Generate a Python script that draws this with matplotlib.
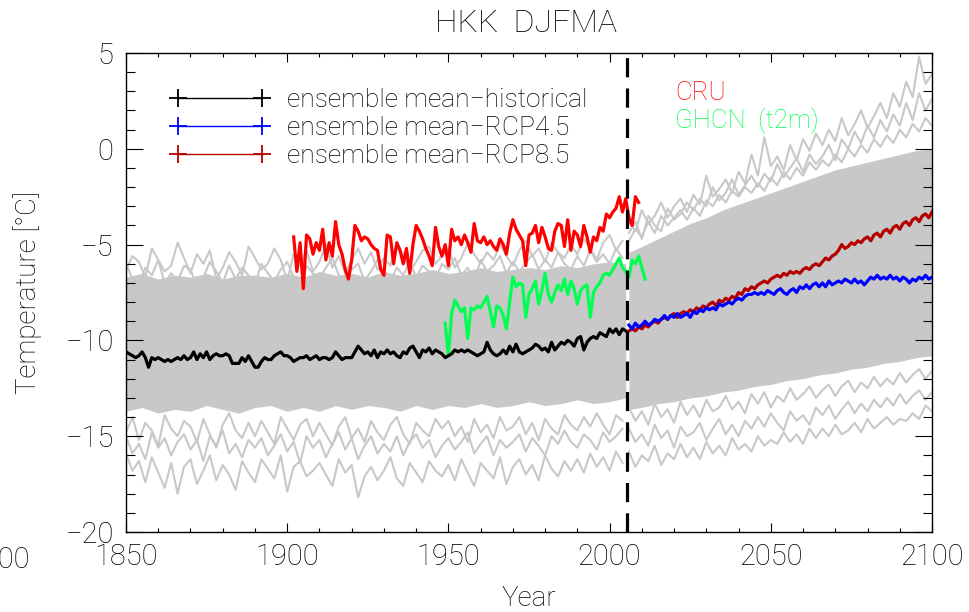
import numpy as np
import matplotlib
matplotlib.use('Agg')
import matplotlib.pyplot as plt
from matplotlib.lines import Line2D
from matplotlib.ticker import MultipleLocator

# ensemble mean, historical run, 1850-2005
hist_mean = [
    -10.6, -10.7, -10.8, -10.9, -10.8, -10.6, -10.9, -11.4, -10.9, -11.0,
    -10.9, -11.0, -11.1, -11.0, -11.1, -11.0, -10.9, -11.0, -10.8, -11.0,
    -10.9, -10.6, -11.0, -10.7, -10.9, -10.6, -11.0, -10.8, -10.7, -10.8,
    -10.8, -10.7, -10.8, -11.2, -11.2, -11.2, -10.9, -11.1, -10.8, -11.1,
    -11.4, -11.4, -11.1, -10.9, -11.0, -11.0, -10.8, -10.7, -10.6, -10.8,
    -10.8, -10.9, -11.1, -11.0, -10.9, -10.9, -10.8, -11.0, -10.9, -10.8,
    -11.0, -10.9, -10.9, -11.0, -10.9, -10.6, -10.8, -11.0, -10.9, -10.9,
    -10.9, -10.6, -10.3, -10.5, -10.7, -10.6, -10.8, -10.5, -10.9, -10.6,
    -10.7, -10.5, -10.7, -10.6, -10.8, -10.9, -10.6, -10.7, -10.4, -10.3,
    -10.6, -10.9, -10.5, -10.6, -10.4, -10.7, -10.5, -10.6, -10.7, -10.9,
    -10.8, -10.7, -10.5, -10.6, -10.5, -10.6, -10.5, -10.6, -10.7, -10.8,
    -10.7, -10.6, -10.1, -10.5, -10.7, -10.8, -10.7, -10.5, -10.7, -10.3,
    -10.6, -10.2, -10.6, -10.7, -10.6, -10.5, -10.4, -10.2, -10.3, -10.5,
    -10.4, -10.6, -10.1, -10.5, -10.3, -10.1, -10.2, -10.0, -10.1, -10.3,
    -9.9, -9.8, -10.5, -10.1, -9.9, -9.8, -9.9, -9.6, -9.7, -9.8,
    -9.4, -9.6, -9.4, -9.7, -9.4, -9.5]

# ensemble means, scenarios, 2006-2100
rcp45_mean = [
    -9.2, -9.4, -9.1, -9.3, -9.2, -9.0, -9.2, -9.1, -8.9, -9.0,
    -8.9, -8.7, -8.9, -8.7, -8.8, -8.6, -8.8, -8.7, -8.6, -8.8,
    -8.5, -8.6, -8.4, -8.5, -8.3, -8.4, -8.3, -8.4, -8.1, -8.2,
    -8.1, -8.0, -8.1, -7.9, -7.8, -7.9, -7.7, -7.6, -7.6, -7.5,
    -7.6, -7.5, -7.6, -7.4, -7.5, -7.6, -7.4, -7.3, -7.5, -7.6,
    -7.4, -7.3, -7.5, -7.2, -7.3, -7.1, -7.3, -7.1, -7.0, -7.2,
    -7.0, -7.2, -6.9, -7.1, -7.0, -6.9, -7.0, -6.8, -6.9, -7.0,
    -6.8, -7.0, -6.9, -7.1, -6.9, -6.7, -6.8, -6.6, -6.8, -6.7,
    -6.8, -6.6, -6.8, -6.7, -6.9, -6.7, -6.8, -7.0, -6.8, -6.9,
    -6.7, -6.8, -6.6, -6.8, -6.7]
rcp85_mean = [
    -9.5, -9.4, -9.5, -9.3, -9.4, -9.2, -9.3, -9.1, -9.0, -9.1,
    -8.9, -8.8, -8.9, -8.7, -8.6, -8.8, -8.6, -8.5, -8.6, -8.4,
    -8.5, -8.3, -8.4, -8.2, -8.3, -8.1, -8.0, -8.2, -7.9, -8.0,
    -7.8, -7.9, -7.7, -7.8, -7.5, -7.6, -7.3, -7.4, -7.2, -7.3,
    -7.1, -7.0, -6.9, -7.0, -6.8, -6.7, -6.6, -6.7, -6.5, -6.6,
    -6.4, -6.5, -6.4, -6.5, -6.3, -6.2, -6.3, -6.1, -6.0, -6.1,
    -5.9, -5.7, -5.8, -5.6, -5.5, -5.3, -5.0, -5.2, -5.1, -4.9,
    -5.0, -4.8, -4.9, -4.7, -4.6, -4.8, -4.5, -4.4, -4.6, -4.3,
    -4.2, -4.4, -4.1, -4.0, -4.2, -3.9, -3.8, -4.0, -3.7, -3.6,
    -3.8, -3.5, -3.4, -3.6, -3.3]

# observations
cru = [
    -4.6, -6.4, -4.9, -7.3, -4.5, -4.7, -5.5, -4.9, -5.3, -4.2,
    -5.8, -4.9, -5.6, -3.8, -5.0, -5.5, -6.3, -6.8, -5.8, -4.0,
    -4.3, -4.8, -4.6, -4.7, -5.0, -5.2, -5.3, -6.3, -6.6, -4.5,
    -4.6, -6.0, -4.9, -5.3, -6.0, -5.2, -6.5, -5.0, -4.0, -4.3,
    -4.7, -5.2, -5.6, -6.1, -4.1, -5.1, -5.6, -5.0, -6.1, -4.2,
    -4.8, -4.6, -5.0, -4.5, -4.9, -5.4, -3.9, -4.8, -4.9, -4.6,
    -5.0, -4.8, -5.1, -5.3, -4.7, -5.0, -5.5, -4.4, -3.7, -4.2,
    -4.5, -4.8, -6.1, -4.5, -4.4, -4.0, -4.9, -4.1, -4.6, -5.2,
    -5.3, -4.3, -3.9, -4.0, -5.1, -3.7, -5.3, -4.3, -4.5, -5.1,
    -4.0, -4.6, -5.4, -4.6, -4.8, -4.1, -4.3, -3.4, -3.6, -3.3,
    -3.1, -2.5, -3.3, -2.6, -3.6, -4.0, -2.5, -2.8]
ghcn = [
    -9.1, -10.8, -8.6, -7.9, -8.2, -8.5, -8.3, -9.9, -8.3, -8.4,
    -8.2, -8.3, -8.0, -7.7, -8.5, -9.3, -8.2, -8.3, -8.7, -9.4,
    -8.0, -6.7, -7.2, -7.0, -7.1, -8.8, -7.6, -7.3, -6.9, -8.1,
    -7.4, -6.5, -7.6, -8.0, -7.5, -7.1, -7.4, -6.8, -7.6, -6.9,
    -7.3, -8.1, -7.4, -7.2, -7.1, -8.8, -7.5, -7.2, -7.0, -6.6,
    -6.5, -6.6, -6.3, -6.0, -5.7, -6.2, -6.4, -6.7, -5.8, -6.0,
    -5.6, -6.2, -6.8]

hist_years = np.arange(1850, 1850 + len(hist_mean))
rcp_years = np.arange(2006, 2006 + len(rcp45_mean))
cru_years = np.arange(1902, 1902 + len(cru))
ghcn_years = np.arange(1949, 1949 + len(ghcn))
split_year = 2005.5

# single runs (grey): dense core of the spread
hist_core_years = np.arange(1850, 2006, 5)
hist_core_hi = [-6.7, -6.5, -6.8, -6.6, -6.7, -6.5, -6.8, -6.6, -6.6, -6.7,
                -6.5, -6.7, -6.4, -6.6, -6.5, -6.7, -6.4, -6.6, -6.5, -6.3,
                -6.5, -6.4, -6.2, -6.4, -6.3, -6.2, -6.3, -6.1, -6.2, -6.0,
                -5.9, -6.0]
hist_core_lo = [-13.7, -13.5, -13.8, -13.6, -13.7, -13.4, -13.6, -13.8, -13.5, -13.4,
                -13.7, -13.5, -13.7, -13.4, -13.6, -13.4, -13.5, -13.7, -13.4, -13.6,
                -13.4, -13.5, -13.3, -13.5, -13.4, -13.2, -13.4, -13.3, -13.1, -13.3,
                -13.2, -13.0]
rcp_core_years = [2006, 2010, 2015, 2020, 2025, 2030, 2035, 2040, 2045, 2050,
                  2055, 2060, 2065, 2070, 2075, 2080, 2085, 2090, 2095, 2100]
rcp_core_hi = [-5.4, -5.1, -4.7, -4.3, -3.9, -3.6, -3.2, -2.9, -2.6, -2.3,
               -2.0, -1.7, -1.4, -1.1, -0.9, -0.7, -0.5, -0.3, -0.1, 0.0]
rcp_core_lo = [-13.6, -13.5, -13.3, -13.2, -13.0, -12.9, -12.7, -12.6, -12.4, -12.3,
               -12.1, -12.0, -11.8, -11.7, -11.5, -11.4, -11.2, -11.1, -10.9, -10.8]

# single runs (grey): outer runs, every second year
hist_member_years = np.arange(1850, 2005, 2)
hist_members = [
    [-6.3, -5.6, -5.9, -6.7, -5.2, -5.8, -6.4, -6.1, -4.9, -5.7,
     -6.5, -5.5, -6.0, -5.3, -6.8, -6.2, -5.4, -5.9, -6.6, -5.1,
     -5.7, -6.3, -6.0, -5.2, -5.8, -6.9, -5.5, -6.1, -5.3, -6.4,
     -5.9, -5.0, -6.2, -5.6, -6.5, -5.8, -5.2, -6.0, -5.4, -6.3,
     -5.7, -6.1, -5.0, -5.5, -6.4, -5.9, -5.3, -5.1, -6.0, -5.6,
     -5.2, -6.2, -5.7, -4.9, -5.5, -6.0, -5.4, -5.8, -5.0, -5.6,
     -6.1, -5.3, -4.8, -5.6, -5.2, -5.9, -4.9, -5.4, -5.7, -5.0,
     -5.5, -4.7, -5.2, -5.8, -4.9, -4.5, -5.3, -4.8],
    [-6.0, -6.8, -7.1, -6.2, -6.6, -5.8, -7.0, -6.5, -6.9, -6.1,
     -6.3, -7.2, -6.7, -5.9, -6.4, -7.0, -6.1, -6.8, -6.2, -6.6,
     -7.1, -6.0, -6.5, -6.9, -6.3, -5.9, -6.7, -7.2, -6.1, -6.5,
     -6.8, -6.2, -5.7, -6.6, -7.0, -6.3, -6.0, -6.9, -6.4, -5.8,
     -6.5, -6.9, -6.2, -6.6, -5.9, -6.7, -6.1, -6.4, -6.8, -6.0,
     -6.3, -5.7, -6.6, -6.2, -6.9, -5.8, -6.4, -6.1, -5.6, -6.5,
     -5.9, -6.4, -6.0, -5.5, -6.3, -5.8, -6.2, -5.4, -6.0, -6.3,
     -5.6, -6.1, -5.3, -5.9, -5.5, -6.0, -5.2, -5.7],
    [-14.8, -14.0, -15.2, -14.3, -14.7, -15.5, -13.9, -14.6, -15.0, -14.2,
     -14.5, -15.3, -14.1, -14.9, -15.6, -14.4, -13.8, -14.7, -15.1, -14.3,
     -15.0, -14.2, -14.8, -15.4, -14.0, -14.6, -15.2, -14.4, -14.1, -15.0,
     -14.3, -14.9, -15.5, -14.5, -14.0, -15.1, -14.6, -15.3, -14.2, -14.8,
     -15.2, -14.4, -14.0, -14.9, -15.4, -14.3, -14.7, -15.0, -14.1, -14.6,
     -14.2, -15.0, -14.5, -15.3, -14.1, -14.8, -14.4, -15.1, -14.0, -14.7,
     -14.5, -14.0, -14.9, -14.3, -15.2, -14.1, -14.6, -14.9, -13.9, -14.4,
     -14.7, -14.0, -14.5, -13.8, -14.4, -14.9, -13.9, -14.2],
    [-15.0, -15.9, -15.4, -16.2, -14.8, -15.6, -15.1, -16.0, -15.3, -14.9,
     -15.7, -15.2, -16.3, -15.0, -15.5, -14.7, -15.9, -15.4, -16.1, -15.2,
     -15.6, -15.1, -16.0, -15.5, -14.9, -15.8, -15.3, -16.4, -15.0, -15.6,
     -15.2, -16.1, -15.4, -14.8, -15.7, -15.1, -16.2, -15.5, -15.0, -15.9,
     -15.4, -15.8, -15.0, -16.0, -15.3, -14.9, -15.6, -15.2, -16.1, -15.5,
     -15.1, -15.7, -15.3, -14.8, -15.9, -15.4, -15.0, -16.0, -15.2, -15.6,
     -15.3, -14.9, -15.8, -15.1, -15.5, -16.0, -15.0, -15.4, -14.7, -15.3,
     -15.6, -14.9, -15.2, -15.7, -14.8, -15.3, -15.0, -14.6],
    [-15.9, -16.8, -16.3, -17.4, -16.1, -16.9, -17.7, -16.4, -18.0, -16.6,
     -16.2, -17.5, -16.8, -16.0, -17.3, -16.5, -17.0, -17.8, -16.3, -16.9,
     -17.4, -16.2, -16.7, -17.2, -16.0, -17.9, -16.6, -16.3, -17.1, -16.8,
     -16.4, -17.0, -17.6, -16.2, -16.9, -16.5, -18.2, -17.1, -16.6, -17.3,
     -16.8, -16.1, -17.2, -17.6, -16.4, -16.9, -17.4, -16.3, -16.8, -17.1,
     -16.5, -17.3, -16.2, -16.9, -17.6, -16.4, -16.8, -17.2, -16.1, -17.5,
     -16.6, -16.2, -17.0, -16.5, -17.3, -16.0, -16.7, -17.1, -16.3, -16.8,
     -16.2, -16.9, -15.9, -16.6, -16.1, -16.8, -15.8, -16.4],
]
rcp_member_years = np.arange(2006, 2101, 2)
rcp_members = [
    [-3.8, -4.3, -3.2, -3.9, -3.5, -2.8, -3.6, -3.0, -2.6, -3.3,
     -2.4, -2.9, -1.4, -2.5, -2.1, -1.6, -2.3, -1.2, -1.8, -0.3,
     -1.4, 0.6, -0.9, -0.4, -1.1, 0.2, -0.6, 0.5, -0.1, 0.8,
     0.2, 1.0, 0.4, 1.6, 0.7, 1.3, 2.0, 1.1, 1.7, 2.4,
     1.6, 2.9, 2.2, 3.5, 2.7, 4.8, 3.4, 3.9],
    [-4.4, -3.8, -4.7, -3.5, -4.0, -4.3, -3.1, -3.7, -3.4, -2.8,
     -3.2, -2.6, -3.0, -2.0, -2.7, -2.3, -1.6, -2.4, -1.9, -1.4,
     -2.0, -1.3, -1.7, -0.8, -1.5, -1.0, -0.5, -1.2, -0.3, -0.8,
     -0.4, 0.2, -0.6, 0.5, 0.0, 0.9, 0.3, 1.2, 0.6, 1.5,
     0.9, 1.8, 1.2, 2.4, 1.5, 2.9, 2.0, 2.6],
    [-4.8, -4.2, -4.6, -3.8, -4.4, -3.5, -4.0, -3.6, -3.2, -3.7,
     -3.1, -3.5, -2.7, -3.0, -2.4, -2.8, -2.2, -2.5, -2.0, -2.3,
     -1.8, -2.2, -1.5, -1.9, -1.2, -1.6, -1.0, -1.4, -0.7, -1.1,
     -0.6, -0.9, -0.3, -0.7, 0.0, -0.4, 0.2, -0.2, 0.5, 0.1,
     0.7, 0.3, 1.0, 0.6, 1.3, 0.9, 1.6, 1.2],
    [-13.5, -14.2, -13.7, -14.4, -13.3, -14.0, -13.6, -14.3, -13.2, -13.9,
     -13.4, -14.0, -13.1, -13.7, -13.5, -12.9, -13.6, -13.2, -13.8, -12.8,
     -13.3, -12.7, -13.5, -12.9, -13.2, -12.5, -13.1, -12.8, -12.4, -13.0,
     -12.6, -12.3, -12.9, -12.4, -12.1, -12.7, -12.2, -12.5, -11.9, -12.4,
     -12.0, -12.3, -11.7, -12.2, -11.8, -11.5, -12.0, -11.6],
    [-14.6, -15.3, -14.9, -15.5, -14.4, -15.1, -14.7, -15.6, -14.5, -15.0,
     -14.8, -14.3, -15.2, -14.6, -14.1, -14.9, -14.4, -15.0, -14.2, -14.6,
     -14.0, -14.5, -13.8, -14.3, -14.7, -13.7, -14.2, -13.9, -14.4, -13.5,
     -13.9, -13.4, -14.1, -13.6, -13.2, -13.8, -13.3, -13.7, -13.1, -13.5,
     -13.0, -13.4, -12.8, -13.3, -12.9, -12.6, -13.1, -12.7],
    [-15.8, -16.6, -16.0, -16.3, -15.5, -16.5, -15.9, -16.2, -15.4, -16.1,
     -15.6, -16.2, -15.3, -15.9, -15.5, -16.0, -15.1, -15.7, -15.4, -15.8,
     -15.0, -15.5, -15.2, -15.4, -14.8, -15.3, -14.9, -15.4, -14.6, -15.1,
     -14.6, -15.0, -14.4, -14.9, -14.7, -14.3, -14.8, -14.1, -14.6, -14.3,
     -14.0, -14.4, -14.1, -14.2, -13.8, -14.1, -13.4, -13.7],
]

legend_labels = ['ensemble mean\u2212historical', 'ensemble mean\u2212RCP4.5',
                 'ensemble mean\u2212RCP8.5']

plt.rcParams['font.family'] = ['Roboto', 'DejaVu Sans']
plt.rcParams['font.weight'] = 'light'

grey = '#c8c8c8'
dark_red = '#b40000'
green = '#00ff50'

fig = plt.figure(figsize=(9.7, 6.12), dpi=100)
ax = fig.add_axes([126 / 970, 1 - 532 / 612, 806 / 970, 479 / 612])

# spread of the single runs
ax.fill_between(hist_core_years, hist_core_lo, hist_core_hi, color=grey, lw=0, zorder=1)
ax.fill_between(rcp_core_years, rcp_core_lo, rcp_core_hi, color=grey, lw=0, zorder=1)
for m in hist_members:
    ax.plot(hist_member_years, m, color=grey, lw=1.5, zorder=1)
for m in rcp_members:
    ax.plot(rcp_member_years, m, color=grey, lw=1.5, zorder=1)

ax.plot(cru_years, cru, color='#ff0000', lw=2.3, zorder=3)
ax.plot(ghcn_years, ghcn, color=green, lw=2.3, zorder=3)
ax.plot(hist_years, hist_mean, color='black', lw=2.3, zorder=3)
ax.plot(rcp_years, rcp85_mean, color=dark_red, lw=2.3, zorder=3)
ax.plot(rcp_years, rcp45_mean, color='blue', lw=2.3, zorder=4)

ax.axvline(split_year, color='black', lw=2.3, ls=(0, (6, 3.5)), zorder=5)

ax.set_xlim(1850, 2100)
ax.set_ylim(-20, 5)
ax.xaxis.set_major_locator(MultipleLocator(50))
ax.xaxis.set_minor_locator(MultipleLocator(10))
ax.yaxis.set_major_locator(MultipleLocator(5))
ax.yaxis.set_minor_locator(MultipleLocator(1))
ax.tick_params(which='both', direction='in', top=True, right=True, width=0.8,
               labelsize=21)
ax.tick_params(axis='x', which='major', length=6.5, pad=8)
ax.tick_params(axis='x', which='minor', length=3.2)
ax.tick_params(axis='y', which='major', length=12, pad=9)
ax.tick_params(axis='y', which='minor', length=6.5)
for s in ax.spines.values():
    s.set_linewidth(1.0)

handles = [Line2D([], [], color=c, lw=1.0, marker='+', markersize=13, markeredgewidth=1.3)
           for c in ['black', 'blue', dark_red]]
ax.legend(handles, legend_labels, loc='upper left', bbox_to_anchor=(0.0546, 0.926),
          frameon=False, numpoints=2, handlelength=3.8, handletextpad=0.65,
          labelspacing=0.15, borderpad=0, borderaxespad=0, fontsize=19)

ax.text(0.681, 0.917, 'CRU', color='#ff0000', fontsize=18.5, va='center',
        transform=ax.transAxes)
ax.text(0.681, 0.858, 'GHCN  (t2m)', color=green, fontsize=18.5, va='center',
        transform=ax.transAxes)

fig.text(526 / 970, 1 - 24 / 612, 'HKK  DJFMA', fontsize=23, ha='center', va='center')
fig.text(529 / 970, 1 - 598 / 612, 'Year', fontsize=20, ha='center', va='center')
fig.text(28 / 970, 1 - 292 / 612, 'Temperature [\u00b0C]', fontsize=20, rotation=90,
         ha='center', va='center')
fig.text(30 / 970, 1 - 560 / 612, '1800', fontsize=21, ha='right', va='center')

fig.savefig('out.png', dpi=100, facecolor='white')
